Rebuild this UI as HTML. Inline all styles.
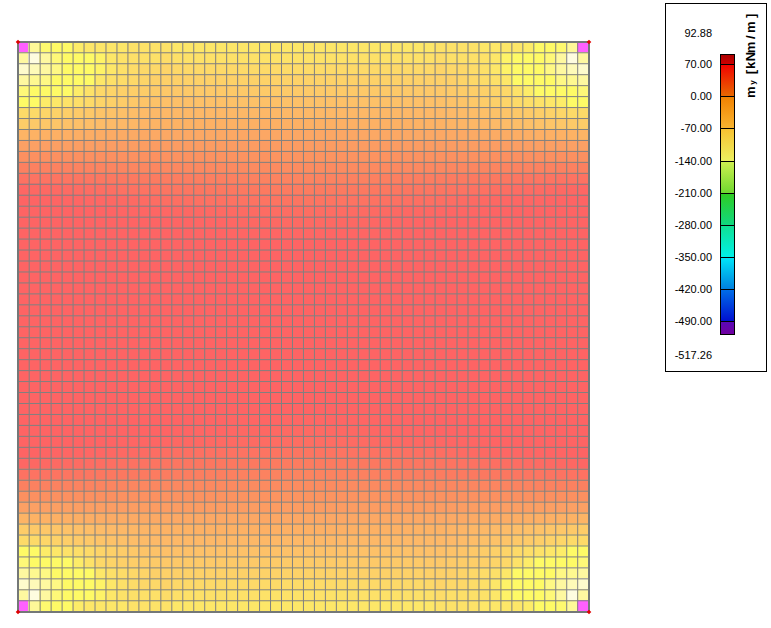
<!DOCTYPE html>
<html><head><meta charset="utf-8"><style>
html,body{margin:0;padding:0;background:#fff;width:771px;height:628px;overflow:hidden;position:relative}
body{font-family:"Liberation Sans",sans-serif}
.lb{position:absolute;right:59px;font-size:11px;line-height:14px;color:#000;white-space:nowrap}
#box{position:absolute;left:665px;top:3px;width:100px;height:367px;border:1px solid #000}
#ttl{position:absolute;left:744px;top:98px;width:90px;height:14px;transform:rotate(-90deg);transform-origin:0 0;font-weight:bold;white-space:nowrap;color:#000}
</style></head><body>
<svg width="771" height="628" style="position:absolute;left:0;top:0" shape-rendering="crispEdges">
<rect x="17" y="41" width="11" height="11" fill="#ff60ff"/><rect x="28" y="41" width="11" height="11" fill="#fef898"/><rect x="39" y="41" width="11" height="11" fill="#fef96f"/><rect x="50" y="41" width="22" height="11" fill="#fefa66"/><rect x="72" y="41" width="11" height="11" fill="#fdec68"/><rect x="83" y="41" width="44" height="11" fill="#fde768"/><rect x="127" y="41" width="44" height="11" fill="#fde268"/><rect x="171" y="41" width="263" height="11" fill="#fde768"/><rect x="434" y="41" width="44" height="11" fill="#fde268"/><rect x="478" y="41" width="44" height="11" fill="#fde768"/><rect x="522" y="41" width="11" height="11" fill="#fdec68"/><rect x="533" y="41" width="22" height="11" fill="#fefa66"/><rect x="555" y="41" width="11" height="11" fill="#fef96f"/><rect x="566" y="41" width="11" height="11" fill="#fef898"/><rect x="577" y="41" width="12" height="11" fill="#ff60ff"/><rect x="17" y="52" width="11" height="11" fill="#fef8a0"/><rect x="28" y="52" width="11" height="11" fill="#fefce0"/><rect x="39" y="52" width="11" height="11" fill="#fef8a0"/><rect x="50" y="52" width="11" height="11" fill="#fef878"/><rect x="61" y="52" width="33" height="11" fill="#fefa66"/><rect x="94" y="52" width="11" height="11" fill="#fef367"/><rect x="105" y="52" width="11" height="11" fill="#fde768"/><rect x="116" y="52" width="11" height="11" fill="#fde268"/><rect x="127" y="52" width="33" height="11" fill="#fde068"/><rect x="160" y="52" width="11" height="11" fill="#fddc68"/><rect x="171" y="52" width="11" height="11" fill="#fde068"/><rect x="182" y="52" width="77" height="11" fill="#fde168"/><rect x="259" y="52" width="88" height="11" fill="#fde268"/><rect x="347" y="52" width="76" height="11" fill="#fde168"/><rect x="423" y="52" width="11" height="11" fill="#fde068"/><rect x="434" y="52" width="11" height="11" fill="#fddc68"/><rect x="445" y="52" width="33" height="11" fill="#fde068"/><rect x="478" y="52" width="11" height="11" fill="#fde268"/><rect x="489" y="52" width="11" height="11" fill="#fde768"/><rect x="500" y="52" width="11" height="11" fill="#fef367"/><rect x="511" y="52" width="33" height="11" fill="#fefa66"/><rect x="544" y="52" width="11" height="11" fill="#fef878"/><rect x="555" y="52" width="11" height="11" fill="#fef8a0"/><rect x="566" y="52" width="11" height="11" fill="#fefce0"/><rect x="577" y="52" width="12" height="11" fill="#fef8a0"/><rect x="17" y="63" width="11" height="11" fill="#fefbcc"/><rect x="28" y="63" width="11" height="11" fill="#fefab8"/><rect x="39" y="63" width="11" height="11" fill="#fef8a0"/><rect x="50" y="63" width="11" height="11" fill="#fef884"/><rect x="61" y="63" width="33" height="11" fill="#fefa66"/><rect x="94" y="63" width="11" height="11" fill="#fef367"/><rect x="105" y="63" width="11" height="11" fill="#fde768"/><rect x="116" y="63" width="11" height="11" fill="#fde068"/><rect x="127" y="63" width="11" height="11" fill="#fddc68"/><rect x="138" y="63" width="22" height="11" fill="#fdd868"/><rect x="160" y="63" width="11" height="11" fill="#fdd468"/><rect x="171" y="63" width="11" height="11" fill="#fdd868"/><rect x="182" y="63" width="55" height="11" fill="#fdd968"/><rect x="237" y="63" width="44" height="11" fill="#fdda68"/><rect x="281" y="63" width="44" height="11" fill="#fddb68"/><rect x="325" y="63" width="44" height="11" fill="#fdda68"/><rect x="369" y="63" width="54" height="11" fill="#fdd968"/><rect x="423" y="63" width="11" height="11" fill="#fdd868"/><rect x="434" y="63" width="11" height="11" fill="#fdd468"/><rect x="445" y="63" width="22" height="11" fill="#fdd868"/><rect x="467" y="63" width="11" height="11" fill="#fddc68"/><rect x="478" y="63" width="11" height="11" fill="#fde068"/><rect x="489" y="63" width="11" height="11" fill="#fde768"/><rect x="500" y="63" width="11" height="11" fill="#fef367"/><rect x="511" y="63" width="33" height="11" fill="#fefa66"/><rect x="544" y="63" width="11" height="11" fill="#fef884"/><rect x="555" y="63" width="11" height="11" fill="#fef8a0"/><rect x="566" y="63" width="11" height="11" fill="#fefab8"/><rect x="577" y="63" width="12" height="11" fill="#fefbcc"/><rect x="17" y="74" width="11" height="11" fill="#fef8a0"/><rect x="28" y="74" width="11" height="11" fill="#fef890"/><rect x="39" y="74" width="11" height="11" fill="#fef884"/><rect x="50" y="74" width="44" height="11" fill="#fefa66"/><rect x="94" y="74" width="11" height="11" fill="#fde768"/><rect x="105" y="74" width="11" height="11" fill="#fde068"/><rect x="116" y="74" width="11" height="11" fill="#fddc68"/><rect x="127" y="74" width="11" height="11" fill="#fdd868"/><rect x="138" y="74" width="11" height="11" fill="#fdd468"/><rect x="149" y="74" width="33" height="11" fill="#fdd068"/><rect x="182" y="74" width="77" height="11" fill="#fdd168"/><rect x="259" y="74" width="88" height="11" fill="#fdd268"/><rect x="347" y="74" width="76" height="11" fill="#fdd168"/><rect x="423" y="74" width="33" height="11" fill="#fdd068"/><rect x="456" y="74" width="11" height="11" fill="#fdd468"/><rect x="467" y="74" width="11" height="11" fill="#fdd868"/><rect x="478" y="74" width="11" height="11" fill="#fddc68"/><rect x="489" y="74" width="11" height="11" fill="#fde068"/><rect x="500" y="74" width="11" height="11" fill="#fde768"/><rect x="511" y="74" width="44" height="11" fill="#fefa66"/><rect x="555" y="74" width="11" height="11" fill="#fef884"/><rect x="566" y="74" width="11" height="11" fill="#fef890"/><rect x="577" y="74" width="12" height="11" fill="#fef8a0"/><rect x="17" y="85" width="11" height="11" fill="#fef878"/><rect x="28" y="85" width="44" height="11" fill="#fefa66"/><rect x="72" y="85" width="11" height="11" fill="#fdec68"/><rect x="83" y="85" width="11" height="11" fill="#fde268"/><rect x="94" y="85" width="11" height="11" fill="#fdd868"/><rect x="105" y="85" width="11" height="11" fill="#fdd468"/><rect x="116" y="85" width="11" height="11" fill="#fdd068"/><rect x="127" y="85" width="11" height="11" fill="#fdce68"/><rect x="138" y="85" width="11" height="11" fill="#fdcc68"/><rect x="149" y="85" width="11" height="11" fill="#fdca68"/><rect x="160" y="85" width="22" height="11" fill="#fdc868"/><rect x="182" y="85" width="77" height="11" fill="#fdc968"/><rect x="259" y="85" width="88" height="11" fill="#fdca68"/><rect x="347" y="85" width="76" height="11" fill="#fdc968"/><rect x="423" y="85" width="22" height="11" fill="#fdc868"/><rect x="445" y="85" width="11" height="11" fill="#fdca68"/><rect x="456" y="85" width="11" height="11" fill="#fdcc68"/><rect x="467" y="85" width="11" height="11" fill="#fdce68"/><rect x="478" y="85" width="11" height="11" fill="#fdd068"/><rect x="489" y="85" width="11" height="11" fill="#fdd468"/><rect x="500" y="85" width="11" height="11" fill="#fdd868"/><rect x="511" y="85" width="11" height="11" fill="#fde268"/><rect x="522" y="85" width="11" height="11" fill="#fdec68"/><rect x="533" y="85" width="44" height="11" fill="#fefa66"/><rect x="577" y="85" width="12" height="11" fill="#fef878"/><rect x="17" y="96" width="22" height="11" fill="#fefa66"/><rect x="39" y="96" width="11" height="11" fill="#fdec68"/><rect x="50" y="96" width="11" height="11" fill="#fde768"/><rect x="61" y="96" width="11" height="11" fill="#fde268"/><rect x="72" y="96" width="11" height="11" fill="#fdde68"/><rect x="83" y="96" width="11" height="11" fill="#fdda68"/><rect x="94" y="96" width="11" height="11" fill="#fdd468"/><rect x="105" y="96" width="11" height="11" fill="#fdd068"/><rect x="116" y="96" width="11" height="11" fill="#fdcc68"/><rect x="127" y="96" width="11" height="11" fill="#fdc868"/><rect x="138" y="96" width="11" height="11" fill="#fdc468"/><rect x="149" y="96" width="11" height="11" fill="#fdc268"/><rect x="160" y="96" width="33" height="11" fill="#fdc068"/><rect x="193" y="96" width="219" height="11" fill="#fdc168"/><rect x="412" y="96" width="33" height="11" fill="#fdc068"/><rect x="445" y="96" width="11" height="11" fill="#fdc268"/><rect x="456" y="96" width="11" height="11" fill="#fdc468"/><rect x="467" y="96" width="11" height="11" fill="#fdc868"/><rect x="478" y="96" width="11" height="11" fill="#fdcc68"/><rect x="489" y="96" width="11" height="11" fill="#fdd068"/><rect x="500" y="96" width="11" height="11" fill="#fdd468"/><rect x="511" y="96" width="11" height="11" fill="#fdda68"/><rect x="522" y="96" width="11" height="11" fill="#fdde68"/><rect x="533" y="96" width="11" height="11" fill="#fde268"/><rect x="544" y="96" width="11" height="11" fill="#fde768"/><rect x="555" y="96" width="11" height="11" fill="#fdec68"/><rect x="566" y="96" width="23" height="11" fill="#fefa66"/><rect x="17" y="107" width="22" height="11" fill="#fdda68"/><rect x="39" y="107" width="11" height="11" fill="#fdd668"/><rect x="50" y="107" width="11" height="11" fill="#fdd268"/><rect x="61" y="107" width="11" height="11" fill="#fdce68"/><rect x="72" y="107" width="11" height="11" fill="#fdca68"/><rect x="83" y="107" width="11" height="11" fill="#fdc868"/><rect x="94" y="107" width="11" height="11" fill="#fdc468"/><rect x="105" y="107" width="11" height="11" fill="#fdc268"/><rect x="116" y="107" width="11" height="11" fill="#fdc068"/><rect x="127" y="107" width="11" height="11" fill="#fdbd68"/><rect x="138" y="107" width="11" height="11" fill="#fdbb68"/><rect x="149" y="107" width="11" height="11" fill="#fdb968"/><rect x="160" y="107" width="285" height="11" fill="#fdb867"/><rect x="445" y="107" width="11" height="11" fill="#fdb968"/><rect x="456" y="107" width="11" height="11" fill="#fdbb68"/><rect x="467" y="107" width="11" height="11" fill="#fdbd68"/><rect x="478" y="107" width="11" height="11" fill="#fdc068"/><rect x="489" y="107" width="11" height="11" fill="#fdc268"/><rect x="500" y="107" width="11" height="11" fill="#fdc468"/><rect x="511" y="107" width="11" height="11" fill="#fdc868"/><rect x="522" y="107" width="11" height="11" fill="#fdca68"/><rect x="533" y="107" width="11" height="11" fill="#fdce68"/><rect x="544" y="107" width="11" height="11" fill="#fdd268"/><rect x="555" y="107" width="11" height="11" fill="#fdd668"/><rect x="566" y="107" width="23" height="11" fill="#fdda68"/><rect x="17" y="118" width="11" height="11" fill="#fdcc68"/><rect x="28" y="118" width="11" height="11" fill="#fdc968"/><rect x="39" y="118" width="11" height="11" fill="#fdc768"/><rect x="50" y="118" width="11" height="11" fill="#fdc568"/><rect x="61" y="118" width="11" height="11" fill="#fdc268"/><rect x="72" y="118" width="11" height="11" fill="#fdc068"/><rect x="83" y="118" width="11" height="11" fill="#fdbe68"/><rect x="94" y="118" width="11" height="11" fill="#fdbc68"/><rect x="105" y="118" width="11" height="11" fill="#fdba68"/><rect x="116" y="118" width="11" height="11" fill="#fdb867"/><rect x="127" y="118" width="11" height="11" fill="#fdb766"/><rect x="138" y="118" width="11" height="11" fill="#fdb566"/><rect x="149" y="118" width="11" height="11" fill="#fdb465"/><rect x="160" y="118" width="33" height="11" fill="#fdb264"/><rect x="193" y="118" width="55" height="11" fill="#fdb164"/><rect x="248" y="118" width="110" height="11" fill="#fdb064"/><rect x="358" y="118" width="54" height="11" fill="#fdb164"/><rect x="412" y="118" width="33" height="11" fill="#fdb264"/><rect x="445" y="118" width="11" height="11" fill="#fdb465"/><rect x="456" y="118" width="11" height="11" fill="#fdb566"/><rect x="467" y="118" width="11" height="11" fill="#fdb766"/><rect x="478" y="118" width="11" height="11" fill="#fdb867"/><rect x="489" y="118" width="11" height="11" fill="#fdba68"/><rect x="500" y="118" width="11" height="11" fill="#fdbc68"/><rect x="511" y="118" width="11" height="11" fill="#fdbe68"/><rect x="522" y="118" width="11" height="11" fill="#fdc068"/><rect x="533" y="118" width="11" height="11" fill="#fdc268"/><rect x="544" y="118" width="11" height="11" fill="#fdc568"/><rect x="555" y="118" width="11" height="11" fill="#fdc768"/><rect x="566" y="118" width="11" height="11" fill="#fdc968"/><rect x="577" y="118" width="12" height="11" fill="#fdcc68"/><rect x="17" y="129" width="11" height="11" fill="#fdb465"/><rect x="28" y="129" width="11" height="11" fill="#fdb264"/><rect x="39" y="129" width="11" height="11" fill="#fdb164"/><rect x="50" y="129" width="11" height="11" fill="#fdb064"/><rect x="61" y="129" width="11" height="11" fill="#fdaf64"/><rect x="72" y="129" width="11" height="11" fill="#fcae64"/><rect x="83" y="129" width="11" height="11" fill="#fcad64"/><rect x="94" y="129" width="11" height="11" fill="#fcac64"/><rect x="105" y="129" width="22" height="11" fill="#fcab64"/><rect x="127" y="129" width="11" height="11" fill="#fcaa64"/><rect x="138" y="129" width="22" height="11" fill="#fca964"/><rect x="160" y="129" width="77" height="11" fill="#fca864"/><rect x="237" y="129" width="132" height="11" fill="#fca764"/><rect x="369" y="129" width="76" height="11" fill="#fca864"/><rect x="445" y="129" width="22" height="11" fill="#fca964"/><rect x="467" y="129" width="11" height="11" fill="#fcaa64"/><rect x="478" y="129" width="22" height="11" fill="#fcab64"/><rect x="500" y="129" width="11" height="11" fill="#fcac64"/><rect x="511" y="129" width="11" height="11" fill="#fcad64"/><rect x="522" y="129" width="11" height="11" fill="#fcae64"/><rect x="533" y="129" width="11" height="11" fill="#fdaf64"/><rect x="544" y="129" width="11" height="11" fill="#fdb064"/><rect x="555" y="129" width="11" height="11" fill="#fdb164"/><rect x="566" y="129" width="11" height="11" fill="#fdb264"/><rect x="577" y="129" width="12" height="11" fill="#fdb465"/><rect x="17" y="140" width="22" height="11" fill="#fca064"/><rect x="39" y="140" width="11" height="11" fill="#fc9f64"/><rect x="50" y="140" width="22" height="11" fill="#fc9f63"/><rect x="72" y="140" width="33" height="11" fill="#fc9e63"/><rect x="105" y="140" width="22" height="11" fill="#fc9d63"/><rect x="127" y="140" width="22" height="11" fill="#fc9d62"/><rect x="149" y="140" width="307" height="11" fill="#fc9c62"/><rect x="456" y="140" width="22" height="11" fill="#fc9d62"/><rect x="478" y="140" width="22" height="11" fill="#fc9d63"/><rect x="500" y="140" width="33" height="11" fill="#fc9e63"/><rect x="533" y="140" width="22" height="11" fill="#fc9f63"/><rect x="555" y="140" width="11" height="11" fill="#fc9f64"/><rect x="566" y="140" width="23" height="11" fill="#fca064"/><rect x="17" y="151" width="99" height="11" fill="#fc9060"/><rect x="116" y="151" width="44" height="11" fill="#fc9160"/><rect x="160" y="151" width="55" height="11" fill="#fc9260"/><rect x="215" y="151" width="55" height="11" fill="#fc9360"/><rect x="270" y="151" width="66" height="11" fill="#fc9460"/><rect x="336" y="151" width="54" height="11" fill="#fc9360"/><rect x="390" y="151" width="55" height="11" fill="#fc9260"/><rect x="445" y="151" width="44" height="11" fill="#fc9160"/><rect x="489" y="151" width="100" height="11" fill="#fc9060"/><rect x="17" y="162" width="11" height="11" fill="#fc8060"/><rect x="28" y="162" width="22" height="11" fill="#fc8160"/><rect x="50" y="162" width="22" height="11" fill="#fc8260"/><rect x="72" y="162" width="22" height="11" fill="#fc8360"/><rect x="94" y="162" width="11" height="11" fill="#fc8460"/><rect x="105" y="162" width="22" height="11" fill="#fc8560"/><rect x="127" y="162" width="11" height="11" fill="#fc8660"/><rect x="138" y="162" width="22" height="11" fill="#fc8760"/><rect x="160" y="162" width="22" height="11" fill="#fc8860"/><rect x="182" y="162" width="33" height="11" fill="#fc8960"/><rect x="215" y="162" width="33" height="11" fill="#fc8a60"/><rect x="248" y="162" width="33" height="11" fill="#fc8b60"/><rect x="281" y="162" width="44" height="11" fill="#fc8c60"/><rect x="325" y="162" width="33" height="11" fill="#fc8b60"/><rect x="358" y="162" width="32" height="11" fill="#fc8a60"/><rect x="390" y="162" width="33" height="11" fill="#fc8960"/><rect x="423" y="162" width="22" height="11" fill="#fc8860"/><rect x="445" y="162" width="22" height="11" fill="#fc8760"/><rect x="467" y="162" width="11" height="11" fill="#fc8660"/><rect x="478" y="162" width="22" height="11" fill="#fc8560"/><rect x="500" y="162" width="11" height="11" fill="#fc8460"/><rect x="511" y="162" width="22" height="11" fill="#fc8360"/><rect x="533" y="162" width="22" height="11" fill="#fc8260"/><rect x="555" y="162" width="22" height="11" fill="#fc8160"/><rect x="577" y="162" width="12" height="11" fill="#fc8060"/><rect x="17" y="173" width="11" height="10" fill="#fd7262"/><rect x="28" y="173" width="22" height="10" fill="#fd7362"/><rect x="50" y="173" width="11" height="10" fill="#fd7461"/><rect x="61" y="173" width="11" height="10" fill="#fd7561"/><rect x="72" y="173" width="11" height="10" fill="#fc7561"/><rect x="83" y="173" width="11" height="10" fill="#fc7661"/><rect x="94" y="173" width="11" height="10" fill="#fc7760"/><rect x="105" y="173" width="22" height="10" fill="#fc7860"/><rect x="127" y="173" width="11" height="10" fill="#fc7960"/><rect x="138" y="173" width="11" height="10" fill="#fc7a60"/><rect x="149" y="173" width="11" height="10" fill="#fc7b60"/><rect x="160" y="173" width="11" height="10" fill="#fc7c60"/><rect x="171" y="173" width="22" height="10" fill="#fc7d60"/><rect x="193" y="173" width="11" height="10" fill="#fc7e60"/><rect x="204" y="173" width="22" height="10" fill="#fc7f60"/><rect x="226" y="173" width="11" height="10" fill="#fc8060"/><rect x="237" y="173" width="22" height="10" fill="#fc8160"/><rect x="259" y="173" width="11" height="10" fill="#fc8260"/><rect x="270" y="173" width="22" height="10" fill="#fc8360"/><rect x="292" y="173" width="22" height="10" fill="#fc8460"/><rect x="314" y="173" width="22" height="10" fill="#fc8360"/><rect x="336" y="173" width="11" height="10" fill="#fc8260"/><rect x="347" y="173" width="22" height="10" fill="#fc8160"/><rect x="369" y="173" width="11" height="10" fill="#fc8060"/><rect x="380" y="173" width="21" height="10" fill="#fc7f60"/><rect x="401" y="173" width="11" height="10" fill="#fc7e60"/><rect x="412" y="173" width="22" height="10" fill="#fc7d60"/><rect x="434" y="173" width="11" height="10" fill="#fc7c60"/><rect x="445" y="173" width="11" height="10" fill="#fc7b60"/><rect x="456" y="173" width="11" height="10" fill="#fc7a60"/><rect x="467" y="173" width="11" height="10" fill="#fc7960"/><rect x="478" y="173" width="22" height="10" fill="#fc7860"/><rect x="500" y="173" width="11" height="10" fill="#fc7760"/><rect x="511" y="173" width="11" height="10" fill="#fc7661"/><rect x="522" y="173" width="11" height="10" fill="#fc7561"/><rect x="533" y="173" width="11" height="10" fill="#fd7561"/><rect x="544" y="173" width="11" height="10" fill="#fd7461"/><rect x="555" y="173" width="22" height="10" fill="#fd7362"/><rect x="577" y="173" width="12" height="10" fill="#fd7262"/><rect x="17" y="183" width="11" height="11" fill="#fe6764"/><rect x="28" y="183" width="11" height="11" fill="#fd6863"/><rect x="39" y="183" width="11" height="11" fill="#fd6963"/><rect x="50" y="183" width="11" height="11" fill="#fd6a63"/><rect x="61" y="183" width="11" height="11" fill="#fd6b63"/><rect x="72" y="183" width="11" height="11" fill="#fd6c63"/><rect x="83" y="183" width="11" height="11" fill="#fd6d63"/><rect x="94" y="183" width="11" height="11" fill="#fd6e62"/><rect x="105" y="183" width="11" height="11" fill="#fd6f62"/><rect x="116" y="183" width="11" height="11" fill="#fd7162"/><rect x="127" y="183" width="11" height="11" fill="#fd7262"/><rect x="138" y="183" width="11" height="11" fill="#fd7362"/><rect x="149" y="183" width="11" height="11" fill="#fd7461"/><rect x="160" y="183" width="11" height="11" fill="#fc7561"/><rect x="171" y="183" width="22" height="11" fill="#fc7661"/><rect x="193" y="183" width="11" height="11" fill="#fc7660"/><rect x="204" y="183" width="11" height="11" fill="#fc7760"/><rect x="215" y="183" width="22" height="11" fill="#fc7860"/><rect x="237" y="183" width="22" height="11" fill="#fc7960"/><rect x="259" y="183" width="11" height="11" fill="#fc7a60"/><rect x="270" y="183" width="22" height="11" fill="#fc7b60"/><rect x="292" y="183" width="22" height="11" fill="#fc7c60"/><rect x="314" y="183" width="22" height="11" fill="#fc7b60"/><rect x="336" y="183" width="11" height="11" fill="#fc7a60"/><rect x="347" y="183" width="22" height="11" fill="#fc7960"/><rect x="369" y="183" width="21" height="11" fill="#fc7860"/><rect x="390" y="183" width="11" height="11" fill="#fc7760"/><rect x="401" y="183" width="11" height="11" fill="#fc7660"/><rect x="412" y="183" width="22" height="11" fill="#fc7661"/><rect x="434" y="183" width="11" height="11" fill="#fc7561"/><rect x="445" y="183" width="11" height="11" fill="#fd7461"/><rect x="456" y="183" width="11" height="11" fill="#fd7362"/><rect x="467" y="183" width="11" height="11" fill="#fd7262"/><rect x="478" y="183" width="11" height="11" fill="#fd7162"/><rect x="489" y="183" width="11" height="11" fill="#fd6f62"/><rect x="500" y="183" width="11" height="11" fill="#fd6e62"/><rect x="511" y="183" width="11" height="11" fill="#fd6d63"/><rect x="522" y="183" width="11" height="11" fill="#fd6c63"/><rect x="533" y="183" width="11" height="11" fill="#fd6b63"/><rect x="544" y="183" width="11" height="11" fill="#fd6a63"/><rect x="555" y="183" width="11" height="11" fill="#fd6963"/><rect x="566" y="183" width="11" height="11" fill="#fd6863"/><rect x="577" y="183" width="12" height="11" fill="#fe6764"/><rect x="17" y="194" width="22" height="11" fill="#fe6464"/><rect x="39" y="194" width="22" height="11" fill="#fe6564"/><rect x="61" y="194" width="22" height="11" fill="#fe6664"/><rect x="83" y="194" width="22" height="11" fill="#fe6764"/><rect x="105" y="194" width="11" height="11" fill="#fd6863"/><rect x="116" y="194" width="11" height="11" fill="#fd6963"/><rect x="127" y="194" width="11" height="11" fill="#fd6a63"/><rect x="138" y="194" width="11" height="11" fill="#fd6b63"/><rect x="149" y="194" width="11" height="11" fill="#fd6d63"/><rect x="160" y="194" width="11" height="11" fill="#fd6e62"/><rect x="171" y="194" width="22" height="11" fill="#fd6f62"/><rect x="193" y="194" width="11" height="11" fill="#fd7062"/><rect x="204" y="194" width="22" height="11" fill="#fd7162"/><rect x="226" y="194" width="11" height="11" fill="#fd7262"/><rect x="237" y="194" width="22" height="11" fill="#fd7362"/><rect x="259" y="194" width="11" height="11" fill="#fd7462"/><rect x="270" y="194" width="22" height="11" fill="#fd7461"/><rect x="292" y="194" width="22" height="11" fill="#fc7561"/><rect x="314" y="194" width="22" height="11" fill="#fd7461"/><rect x="336" y="194" width="11" height="11" fill="#fd7462"/><rect x="347" y="194" width="22" height="11" fill="#fd7362"/><rect x="369" y="194" width="11" height="11" fill="#fd7262"/><rect x="380" y="194" width="21" height="11" fill="#fd7162"/><rect x="401" y="194" width="11" height="11" fill="#fd7062"/><rect x="412" y="194" width="22" height="11" fill="#fd6f62"/><rect x="434" y="194" width="11" height="11" fill="#fd6e62"/><rect x="445" y="194" width="11" height="11" fill="#fd6d63"/><rect x="456" y="194" width="11" height="11" fill="#fd6b63"/><rect x="467" y="194" width="11" height="11" fill="#fd6a63"/><rect x="478" y="194" width="11" height="11" fill="#fd6963"/><rect x="489" y="194" width="11" height="11" fill="#fd6863"/><rect x="500" y="194" width="22" height="11" fill="#fe6764"/><rect x="522" y="194" width="22" height="11" fill="#fe6664"/><rect x="544" y="194" width="22" height="11" fill="#fe6564"/><rect x="566" y="194" width="23" height="11" fill="#fe6464"/><rect x="17" y="205" width="99" height="11" fill="#fe6464"/><rect x="116" y="205" width="11" height="11" fill="#fe6564"/><rect x="127" y="205" width="33" height="11" fill="#fe6664"/><rect x="160" y="205" width="11" height="11" fill="#fe6764"/><rect x="171" y="205" width="33" height="11" fill="#fd6863"/><rect x="204" y="205" width="11" height="11" fill="#fd6963"/><rect x="215" y="205" width="22" height="11" fill="#fd6a63"/><rect x="237" y="205" width="22" height="11" fill="#fd6b63"/><rect x="259" y="205" width="11" height="11" fill="#fd6c63"/><rect x="270" y="205" width="22" height="11" fill="#fd6d63"/><rect x="292" y="205" width="22" height="11" fill="#fd6e62"/><rect x="314" y="205" width="22" height="11" fill="#fd6d63"/><rect x="336" y="205" width="11" height="11" fill="#fd6c63"/><rect x="347" y="205" width="22" height="11" fill="#fd6b63"/><rect x="369" y="205" width="21" height="11" fill="#fd6a63"/><rect x="390" y="205" width="11" height="11" fill="#fd6963"/><rect x="401" y="205" width="33" height="11" fill="#fd6863"/><rect x="434" y="205" width="11" height="11" fill="#fe6764"/><rect x="445" y="205" width="33" height="11" fill="#fe6664"/><rect x="478" y="205" width="11" height="11" fill="#fe6564"/><rect x="489" y="205" width="100" height="11" fill="#fe6464"/><rect x="17" y="216" width="154" height="11" fill="#fe6464"/><rect x="171" y="216" width="22" height="11" fill="#fe6564"/><rect x="193" y="216" width="33" height="11" fill="#fe6664"/><rect x="226" y="216" width="11" height="11" fill="#fe6764"/><rect x="237" y="216" width="33" height="11" fill="#fd6863"/><rect x="270" y="216" width="11" height="11" fill="#fd6963"/><rect x="281" y="216" width="44" height="11" fill="#fd6a63"/><rect x="325" y="216" width="11" height="11" fill="#fd6963"/><rect x="336" y="216" width="33" height="11" fill="#fd6863"/><rect x="369" y="216" width="11" height="11" fill="#fe6764"/><rect x="380" y="216" width="32" height="11" fill="#fe6664"/><rect x="412" y="216" width="22" height="11" fill="#fe6564"/><rect x="434" y="216" width="155" height="11" fill="#fe6464"/><rect x="17" y="227" width="176" height="11" fill="#fe6464"/><rect x="193" y="227" width="33" height="11" fill="#fe6564"/><rect x="226" y="227" width="55" height="11" fill="#fe6664"/><rect x="281" y="227" width="44" height="11" fill="#fe6764"/><rect x="325" y="227" width="55" height="11" fill="#fe6664"/><rect x="380" y="227" width="32" height="11" fill="#fe6564"/><rect x="412" y="227" width="177" height="11" fill="#fe6464"/><rect x="17" y="238" width="572" height="11" fill="#fe6464"/><rect x="17" y="249" width="572" height="11" fill="#fe6464"/><rect x="17" y="260" width="572" height="11" fill="#fe6464"/><rect x="17" y="271" width="572" height="11" fill="#fe6464"/><rect x="17" y="282" width="572" height="11" fill="#fe6464"/><rect x="17" y="293" width="572" height="11" fill="#fe6464"/><rect x="17" y="304" width="572" height="11" fill="#fe6464"/><rect x="17" y="315" width="572" height="11" fill="#fe6464"/><rect x="17" y="326" width="572" height="11" fill="#fe6464"/><rect x="17" y="337" width="572" height="11" fill="#fe6464"/><rect x="17" y="348" width="572" height="11" fill="#fe6464"/><rect x="17" y="359" width="572" height="11" fill="#fe6464"/><rect x="17" y="370" width="572" height="11" fill="#fe6464"/><rect x="17" y="381" width="572" height="11" fill="#fe6464"/><rect x="17" y="392" width="572" height="11" fill="#fe6464"/><rect x="17" y="403" width="572" height="11" fill="#fe6464"/><rect x="17" y="414" width="176" height="11" fill="#fe6464"/><rect x="193" y="414" width="33" height="11" fill="#fe6564"/><rect x="226" y="414" width="55" height="11" fill="#fe6664"/><rect x="281" y="414" width="44" height="11" fill="#fe6764"/><rect x="325" y="414" width="55" height="11" fill="#fe6664"/><rect x="380" y="414" width="32" height="11" fill="#fe6564"/><rect x="412" y="414" width="177" height="11" fill="#fe6464"/><rect x="17" y="425" width="154" height="11" fill="#fe6464"/><rect x="171" y="425" width="22" height="11" fill="#fe6564"/><rect x="193" y="425" width="33" height="11" fill="#fe6664"/><rect x="226" y="425" width="11" height="11" fill="#fe6764"/><rect x="237" y="425" width="33" height="11" fill="#fd6863"/><rect x="270" y="425" width="11" height="11" fill="#fd6963"/><rect x="281" y="425" width="44" height="11" fill="#fd6a63"/><rect x="325" y="425" width="11" height="11" fill="#fd6963"/><rect x="336" y="425" width="33" height="11" fill="#fd6863"/><rect x="369" y="425" width="11" height="11" fill="#fe6764"/><rect x="380" y="425" width="32" height="11" fill="#fe6664"/><rect x="412" y="425" width="22" height="11" fill="#fe6564"/><rect x="434" y="425" width="155" height="11" fill="#fe6464"/><rect x="17" y="436" width="99" height="11" fill="#fe6464"/><rect x="116" y="436" width="11" height="11" fill="#fe6564"/><rect x="127" y="436" width="33" height="11" fill="#fe6664"/><rect x="160" y="436" width="11" height="11" fill="#fe6764"/><rect x="171" y="436" width="33" height="11" fill="#fd6863"/><rect x="204" y="436" width="11" height="11" fill="#fd6963"/><rect x="215" y="436" width="22" height="11" fill="#fd6a63"/><rect x="237" y="436" width="22" height="11" fill="#fd6b63"/><rect x="259" y="436" width="11" height="11" fill="#fd6c63"/><rect x="270" y="436" width="22" height="11" fill="#fd6d63"/><rect x="292" y="436" width="22" height="11" fill="#fd6e62"/><rect x="314" y="436" width="22" height="11" fill="#fd6d63"/><rect x="336" y="436" width="11" height="11" fill="#fd6c63"/><rect x="347" y="436" width="22" height="11" fill="#fd6b63"/><rect x="369" y="436" width="21" height="11" fill="#fd6a63"/><rect x="390" y="436" width="11" height="11" fill="#fd6963"/><rect x="401" y="436" width="33" height="11" fill="#fd6863"/><rect x="434" y="436" width="11" height="11" fill="#fe6764"/><rect x="445" y="436" width="33" height="11" fill="#fe6664"/><rect x="478" y="436" width="11" height="11" fill="#fe6564"/><rect x="489" y="436" width="100" height="11" fill="#fe6464"/><rect x="17" y="447" width="22" height="10" fill="#fe6464"/><rect x="39" y="447" width="22" height="10" fill="#fe6564"/><rect x="61" y="447" width="22" height="10" fill="#fe6664"/><rect x="83" y="447" width="22" height="10" fill="#fe6764"/><rect x="105" y="447" width="11" height="10" fill="#fd6863"/><rect x="116" y="447" width="11" height="10" fill="#fd6963"/><rect x="127" y="447" width="11" height="10" fill="#fd6a63"/><rect x="138" y="447" width="11" height="10" fill="#fd6b63"/><rect x="149" y="447" width="11" height="10" fill="#fd6d63"/><rect x="160" y="447" width="11" height="10" fill="#fd6e62"/><rect x="171" y="447" width="22" height="10" fill="#fd6f62"/><rect x="193" y="447" width="11" height="10" fill="#fd7062"/><rect x="204" y="447" width="22" height="10" fill="#fd7162"/><rect x="226" y="447" width="11" height="10" fill="#fd7262"/><rect x="237" y="447" width="22" height="10" fill="#fd7362"/><rect x="259" y="447" width="11" height="10" fill="#fd7462"/><rect x="270" y="447" width="22" height="10" fill="#fd7461"/><rect x="292" y="447" width="22" height="10" fill="#fc7561"/><rect x="314" y="447" width="22" height="10" fill="#fd7461"/><rect x="336" y="447" width="11" height="10" fill="#fd7462"/><rect x="347" y="447" width="22" height="10" fill="#fd7362"/><rect x="369" y="447" width="11" height="10" fill="#fd7262"/><rect x="380" y="447" width="21" height="10" fill="#fd7162"/><rect x="401" y="447" width="11" height="10" fill="#fd7062"/><rect x="412" y="447" width="22" height="10" fill="#fd6f62"/><rect x="434" y="447" width="11" height="10" fill="#fd6e62"/><rect x="445" y="447" width="11" height="10" fill="#fd6d63"/><rect x="456" y="447" width="11" height="10" fill="#fd6b63"/><rect x="467" y="447" width="11" height="10" fill="#fd6a63"/><rect x="478" y="447" width="11" height="10" fill="#fd6963"/><rect x="489" y="447" width="11" height="10" fill="#fd6863"/><rect x="500" y="447" width="22" height="10" fill="#fe6764"/><rect x="522" y="447" width="22" height="10" fill="#fe6664"/><rect x="544" y="447" width="22" height="10" fill="#fe6564"/><rect x="566" y="447" width="23" height="10" fill="#fe6464"/><rect x="17" y="457" width="11" height="11" fill="#fe6764"/><rect x="28" y="457" width="11" height="11" fill="#fd6863"/><rect x="39" y="457" width="11" height="11" fill="#fd6963"/><rect x="50" y="457" width="11" height="11" fill="#fd6a63"/><rect x="61" y="457" width="11" height="11" fill="#fd6b63"/><rect x="72" y="457" width="11" height="11" fill="#fd6c63"/><rect x="83" y="457" width="11" height="11" fill="#fd6d63"/><rect x="94" y="457" width="11" height="11" fill="#fd6e62"/><rect x="105" y="457" width="11" height="11" fill="#fd6f62"/><rect x="116" y="457" width="11" height="11" fill="#fd7162"/><rect x="127" y="457" width="11" height="11" fill="#fd7262"/><rect x="138" y="457" width="11" height="11" fill="#fd7362"/><rect x="149" y="457" width="11" height="11" fill="#fd7461"/><rect x="160" y="457" width="11" height="11" fill="#fc7561"/><rect x="171" y="457" width="22" height="11" fill="#fc7661"/><rect x="193" y="457" width="11" height="11" fill="#fc7660"/><rect x="204" y="457" width="11" height="11" fill="#fc7760"/><rect x="215" y="457" width="22" height="11" fill="#fc7860"/><rect x="237" y="457" width="22" height="11" fill="#fc7960"/><rect x="259" y="457" width="11" height="11" fill="#fc7a60"/><rect x="270" y="457" width="22" height="11" fill="#fc7b60"/><rect x="292" y="457" width="22" height="11" fill="#fc7c60"/><rect x="314" y="457" width="22" height="11" fill="#fc7b60"/><rect x="336" y="457" width="11" height="11" fill="#fc7a60"/><rect x="347" y="457" width="22" height="11" fill="#fc7960"/><rect x="369" y="457" width="21" height="11" fill="#fc7860"/><rect x="390" y="457" width="11" height="11" fill="#fc7760"/><rect x="401" y="457" width="11" height="11" fill="#fc7660"/><rect x="412" y="457" width="22" height="11" fill="#fc7661"/><rect x="434" y="457" width="11" height="11" fill="#fc7561"/><rect x="445" y="457" width="11" height="11" fill="#fd7461"/><rect x="456" y="457" width="11" height="11" fill="#fd7362"/><rect x="467" y="457" width="11" height="11" fill="#fd7262"/><rect x="478" y="457" width="11" height="11" fill="#fd7162"/><rect x="489" y="457" width="11" height="11" fill="#fd6f62"/><rect x="500" y="457" width="11" height="11" fill="#fd6e62"/><rect x="511" y="457" width="11" height="11" fill="#fd6d63"/><rect x="522" y="457" width="11" height="11" fill="#fd6c63"/><rect x="533" y="457" width="11" height="11" fill="#fd6b63"/><rect x="544" y="457" width="11" height="11" fill="#fd6a63"/><rect x="555" y="457" width="11" height="11" fill="#fd6963"/><rect x="566" y="457" width="11" height="11" fill="#fd6863"/><rect x="577" y="457" width="12" height="11" fill="#fe6764"/><rect x="17" y="468" width="11" height="11" fill="#fd7262"/><rect x="28" y="468" width="22" height="11" fill="#fd7362"/><rect x="50" y="468" width="11" height="11" fill="#fd7461"/><rect x="61" y="468" width="11" height="11" fill="#fd7561"/><rect x="72" y="468" width="11" height="11" fill="#fc7561"/><rect x="83" y="468" width="11" height="11" fill="#fc7661"/><rect x="94" y="468" width="11" height="11" fill="#fc7760"/><rect x="105" y="468" width="22" height="11" fill="#fc7860"/><rect x="127" y="468" width="11" height="11" fill="#fc7960"/><rect x="138" y="468" width="11" height="11" fill="#fc7a60"/><rect x="149" y="468" width="11" height="11" fill="#fc7b60"/><rect x="160" y="468" width="11" height="11" fill="#fc7c60"/><rect x="171" y="468" width="22" height="11" fill="#fc7d60"/><rect x="193" y="468" width="11" height="11" fill="#fc7e60"/><rect x="204" y="468" width="22" height="11" fill="#fc7f60"/><rect x="226" y="468" width="11" height="11" fill="#fc8060"/><rect x="237" y="468" width="22" height="11" fill="#fc8160"/><rect x="259" y="468" width="11" height="11" fill="#fc8260"/><rect x="270" y="468" width="22" height="11" fill="#fc8360"/><rect x="292" y="468" width="22" height="11" fill="#fc8460"/><rect x="314" y="468" width="22" height="11" fill="#fc8360"/><rect x="336" y="468" width="11" height="11" fill="#fc8260"/><rect x="347" y="468" width="22" height="11" fill="#fc8160"/><rect x="369" y="468" width="11" height="11" fill="#fc8060"/><rect x="380" y="468" width="21" height="11" fill="#fc7f60"/><rect x="401" y="468" width="11" height="11" fill="#fc7e60"/><rect x="412" y="468" width="22" height="11" fill="#fc7d60"/><rect x="434" y="468" width="11" height="11" fill="#fc7c60"/><rect x="445" y="468" width="11" height="11" fill="#fc7b60"/><rect x="456" y="468" width="11" height="11" fill="#fc7a60"/><rect x="467" y="468" width="11" height="11" fill="#fc7960"/><rect x="478" y="468" width="22" height="11" fill="#fc7860"/><rect x="500" y="468" width="11" height="11" fill="#fc7760"/><rect x="511" y="468" width="11" height="11" fill="#fc7661"/><rect x="522" y="468" width="11" height="11" fill="#fc7561"/><rect x="533" y="468" width="11" height="11" fill="#fd7561"/><rect x="544" y="468" width="11" height="11" fill="#fd7461"/><rect x="555" y="468" width="22" height="11" fill="#fd7362"/><rect x="577" y="468" width="12" height="11" fill="#fd7262"/><rect x="17" y="479" width="11" height="11" fill="#fc8060"/><rect x="28" y="479" width="22" height="11" fill="#fc8160"/><rect x="50" y="479" width="22" height="11" fill="#fc8260"/><rect x="72" y="479" width="22" height="11" fill="#fc8360"/><rect x="94" y="479" width="11" height="11" fill="#fc8460"/><rect x="105" y="479" width="22" height="11" fill="#fc8560"/><rect x="127" y="479" width="11" height="11" fill="#fc8660"/><rect x="138" y="479" width="22" height="11" fill="#fc8760"/><rect x="160" y="479" width="22" height="11" fill="#fc8860"/><rect x="182" y="479" width="33" height="11" fill="#fc8960"/><rect x="215" y="479" width="33" height="11" fill="#fc8a60"/><rect x="248" y="479" width="33" height="11" fill="#fc8b60"/><rect x="281" y="479" width="44" height="11" fill="#fc8c60"/><rect x="325" y="479" width="33" height="11" fill="#fc8b60"/><rect x="358" y="479" width="32" height="11" fill="#fc8a60"/><rect x="390" y="479" width="33" height="11" fill="#fc8960"/><rect x="423" y="479" width="22" height="11" fill="#fc8860"/><rect x="445" y="479" width="22" height="11" fill="#fc8760"/><rect x="467" y="479" width="11" height="11" fill="#fc8660"/><rect x="478" y="479" width="22" height="11" fill="#fc8560"/><rect x="500" y="479" width="11" height="11" fill="#fc8460"/><rect x="511" y="479" width="22" height="11" fill="#fc8360"/><rect x="533" y="479" width="22" height="11" fill="#fc8260"/><rect x="555" y="479" width="22" height="11" fill="#fc8160"/><rect x="577" y="479" width="12" height="11" fill="#fc8060"/><rect x="17" y="490" width="99" height="11" fill="#fc9060"/><rect x="116" y="490" width="44" height="11" fill="#fc9160"/><rect x="160" y="490" width="55" height="11" fill="#fc9260"/><rect x="215" y="490" width="55" height="11" fill="#fc9360"/><rect x="270" y="490" width="66" height="11" fill="#fc9460"/><rect x="336" y="490" width="54" height="11" fill="#fc9360"/><rect x="390" y="490" width="55" height="11" fill="#fc9260"/><rect x="445" y="490" width="44" height="11" fill="#fc9160"/><rect x="489" y="490" width="100" height="11" fill="#fc9060"/><rect x="17" y="501" width="22" height="11" fill="#fca064"/><rect x="39" y="501" width="11" height="11" fill="#fc9f64"/><rect x="50" y="501" width="22" height="11" fill="#fc9f63"/><rect x="72" y="501" width="33" height="11" fill="#fc9e63"/><rect x="105" y="501" width="22" height="11" fill="#fc9d63"/><rect x="127" y="501" width="22" height="11" fill="#fc9d62"/><rect x="149" y="501" width="307" height="11" fill="#fc9c62"/><rect x="456" y="501" width="22" height="11" fill="#fc9d62"/><rect x="478" y="501" width="22" height="11" fill="#fc9d63"/><rect x="500" y="501" width="33" height="11" fill="#fc9e63"/><rect x="533" y="501" width="22" height="11" fill="#fc9f63"/><rect x="555" y="501" width="11" height="11" fill="#fc9f64"/><rect x="566" y="501" width="23" height="11" fill="#fca064"/><rect x="17" y="512" width="11" height="11" fill="#fdb465"/><rect x="28" y="512" width="11" height="11" fill="#fdb264"/><rect x="39" y="512" width="11" height="11" fill="#fdb164"/><rect x="50" y="512" width="11" height="11" fill="#fdb064"/><rect x="61" y="512" width="11" height="11" fill="#fdaf64"/><rect x="72" y="512" width="11" height="11" fill="#fcae64"/><rect x="83" y="512" width="11" height="11" fill="#fcad64"/><rect x="94" y="512" width="11" height="11" fill="#fcac64"/><rect x="105" y="512" width="22" height="11" fill="#fcab64"/><rect x="127" y="512" width="11" height="11" fill="#fcaa64"/><rect x="138" y="512" width="22" height="11" fill="#fca964"/><rect x="160" y="512" width="77" height="11" fill="#fca864"/><rect x="237" y="512" width="132" height="11" fill="#fca764"/><rect x="369" y="512" width="76" height="11" fill="#fca864"/><rect x="445" y="512" width="22" height="11" fill="#fca964"/><rect x="467" y="512" width="11" height="11" fill="#fcaa64"/><rect x="478" y="512" width="22" height="11" fill="#fcab64"/><rect x="500" y="512" width="11" height="11" fill="#fcac64"/><rect x="511" y="512" width="11" height="11" fill="#fcad64"/><rect x="522" y="512" width="11" height="11" fill="#fcae64"/><rect x="533" y="512" width="11" height="11" fill="#fdaf64"/><rect x="544" y="512" width="11" height="11" fill="#fdb064"/><rect x="555" y="512" width="11" height="11" fill="#fdb164"/><rect x="566" y="512" width="11" height="11" fill="#fdb264"/><rect x="577" y="512" width="12" height="11" fill="#fdb465"/><rect x="17" y="523" width="11" height="11" fill="#fdcc68"/><rect x="28" y="523" width="11" height="11" fill="#fdc968"/><rect x="39" y="523" width="11" height="11" fill="#fdc768"/><rect x="50" y="523" width="11" height="11" fill="#fdc568"/><rect x="61" y="523" width="11" height="11" fill="#fdc268"/><rect x="72" y="523" width="11" height="11" fill="#fdc068"/><rect x="83" y="523" width="11" height="11" fill="#fdbe68"/><rect x="94" y="523" width="11" height="11" fill="#fdbc68"/><rect x="105" y="523" width="11" height="11" fill="#fdba68"/><rect x="116" y="523" width="11" height="11" fill="#fdb867"/><rect x="127" y="523" width="11" height="11" fill="#fdb766"/><rect x="138" y="523" width="11" height="11" fill="#fdb566"/><rect x="149" y="523" width="11" height="11" fill="#fdb465"/><rect x="160" y="523" width="33" height="11" fill="#fdb264"/><rect x="193" y="523" width="55" height="11" fill="#fdb164"/><rect x="248" y="523" width="110" height="11" fill="#fdb064"/><rect x="358" y="523" width="54" height="11" fill="#fdb164"/><rect x="412" y="523" width="33" height="11" fill="#fdb264"/><rect x="445" y="523" width="11" height="11" fill="#fdb465"/><rect x="456" y="523" width="11" height="11" fill="#fdb566"/><rect x="467" y="523" width="11" height="11" fill="#fdb766"/><rect x="478" y="523" width="11" height="11" fill="#fdb867"/><rect x="489" y="523" width="11" height="11" fill="#fdba68"/><rect x="500" y="523" width="11" height="11" fill="#fdbc68"/><rect x="511" y="523" width="11" height="11" fill="#fdbe68"/><rect x="522" y="523" width="11" height="11" fill="#fdc068"/><rect x="533" y="523" width="11" height="11" fill="#fdc268"/><rect x="544" y="523" width="11" height="11" fill="#fdc568"/><rect x="555" y="523" width="11" height="11" fill="#fdc768"/><rect x="566" y="523" width="11" height="11" fill="#fdc968"/><rect x="577" y="523" width="12" height="11" fill="#fdcc68"/><rect x="17" y="534" width="22" height="11" fill="#fdda68"/><rect x="39" y="534" width="11" height="11" fill="#fdd668"/><rect x="50" y="534" width="11" height="11" fill="#fdd268"/><rect x="61" y="534" width="11" height="11" fill="#fdce68"/><rect x="72" y="534" width="11" height="11" fill="#fdca68"/><rect x="83" y="534" width="11" height="11" fill="#fdc868"/><rect x="94" y="534" width="11" height="11" fill="#fdc468"/><rect x="105" y="534" width="11" height="11" fill="#fdc268"/><rect x="116" y="534" width="11" height="11" fill="#fdc068"/><rect x="127" y="534" width="11" height="11" fill="#fdbd68"/><rect x="138" y="534" width="11" height="11" fill="#fdbb68"/><rect x="149" y="534" width="11" height="11" fill="#fdb968"/><rect x="160" y="534" width="285" height="11" fill="#fdb867"/><rect x="445" y="534" width="11" height="11" fill="#fdb968"/><rect x="456" y="534" width="11" height="11" fill="#fdbb68"/><rect x="467" y="534" width="11" height="11" fill="#fdbd68"/><rect x="478" y="534" width="11" height="11" fill="#fdc068"/><rect x="489" y="534" width="11" height="11" fill="#fdc268"/><rect x="500" y="534" width="11" height="11" fill="#fdc468"/><rect x="511" y="534" width="11" height="11" fill="#fdc868"/><rect x="522" y="534" width="11" height="11" fill="#fdca68"/><rect x="533" y="534" width="11" height="11" fill="#fdce68"/><rect x="544" y="534" width="11" height="11" fill="#fdd268"/><rect x="555" y="534" width="11" height="11" fill="#fdd668"/><rect x="566" y="534" width="23" height="11" fill="#fdda68"/><rect x="17" y="545" width="22" height="11" fill="#fefa66"/><rect x="39" y="545" width="11" height="11" fill="#fdec68"/><rect x="50" y="545" width="11" height="11" fill="#fde768"/><rect x="61" y="545" width="11" height="11" fill="#fde268"/><rect x="72" y="545" width="11" height="11" fill="#fdde68"/><rect x="83" y="545" width="11" height="11" fill="#fdda68"/><rect x="94" y="545" width="11" height="11" fill="#fdd468"/><rect x="105" y="545" width="11" height="11" fill="#fdd068"/><rect x="116" y="545" width="11" height="11" fill="#fdcc68"/><rect x="127" y="545" width="11" height="11" fill="#fdc868"/><rect x="138" y="545" width="11" height="11" fill="#fdc468"/><rect x="149" y="545" width="11" height="11" fill="#fdc268"/><rect x="160" y="545" width="33" height="11" fill="#fdc068"/><rect x="193" y="545" width="219" height="11" fill="#fdc168"/><rect x="412" y="545" width="33" height="11" fill="#fdc068"/><rect x="445" y="545" width="11" height="11" fill="#fdc268"/><rect x="456" y="545" width="11" height="11" fill="#fdc468"/><rect x="467" y="545" width="11" height="11" fill="#fdc868"/><rect x="478" y="545" width="11" height="11" fill="#fdcc68"/><rect x="489" y="545" width="11" height="11" fill="#fdd068"/><rect x="500" y="545" width="11" height="11" fill="#fdd468"/><rect x="511" y="545" width="11" height="11" fill="#fdda68"/><rect x="522" y="545" width="11" height="11" fill="#fdde68"/><rect x="533" y="545" width="11" height="11" fill="#fde268"/><rect x="544" y="545" width="11" height="11" fill="#fde768"/><rect x="555" y="545" width="11" height="11" fill="#fdec68"/><rect x="566" y="545" width="23" height="11" fill="#fefa66"/><rect x="17" y="556" width="11" height="11" fill="#fef878"/><rect x="28" y="556" width="44" height="11" fill="#fefa66"/><rect x="72" y="556" width="11" height="11" fill="#fdec68"/><rect x="83" y="556" width="11" height="11" fill="#fde268"/><rect x="94" y="556" width="11" height="11" fill="#fdd868"/><rect x="105" y="556" width="11" height="11" fill="#fdd468"/><rect x="116" y="556" width="11" height="11" fill="#fdd068"/><rect x="127" y="556" width="11" height="11" fill="#fdce68"/><rect x="138" y="556" width="11" height="11" fill="#fdcc68"/><rect x="149" y="556" width="11" height="11" fill="#fdca68"/><rect x="160" y="556" width="22" height="11" fill="#fdc868"/><rect x="182" y="556" width="77" height="11" fill="#fdc968"/><rect x="259" y="556" width="88" height="11" fill="#fdca68"/><rect x="347" y="556" width="76" height="11" fill="#fdc968"/><rect x="423" y="556" width="22" height="11" fill="#fdc868"/><rect x="445" y="556" width="11" height="11" fill="#fdca68"/><rect x="456" y="556" width="11" height="11" fill="#fdcc68"/><rect x="467" y="556" width="11" height="11" fill="#fdce68"/><rect x="478" y="556" width="11" height="11" fill="#fdd068"/><rect x="489" y="556" width="11" height="11" fill="#fdd468"/><rect x="500" y="556" width="11" height="11" fill="#fdd868"/><rect x="511" y="556" width="11" height="11" fill="#fde268"/><rect x="522" y="556" width="11" height="11" fill="#fdec68"/><rect x="533" y="556" width="44" height="11" fill="#fefa66"/><rect x="577" y="556" width="12" height="11" fill="#fef878"/><rect x="17" y="567" width="11" height="11" fill="#fef8a0"/><rect x="28" y="567" width="11" height="11" fill="#fef890"/><rect x="39" y="567" width="11" height="11" fill="#fef884"/><rect x="50" y="567" width="44" height="11" fill="#fefa66"/><rect x="94" y="567" width="11" height="11" fill="#fde768"/><rect x="105" y="567" width="11" height="11" fill="#fde068"/><rect x="116" y="567" width="11" height="11" fill="#fddc68"/><rect x="127" y="567" width="11" height="11" fill="#fdd868"/><rect x="138" y="567" width="11" height="11" fill="#fdd468"/><rect x="149" y="567" width="33" height="11" fill="#fdd068"/><rect x="182" y="567" width="77" height="11" fill="#fdd168"/><rect x="259" y="567" width="88" height="11" fill="#fdd268"/><rect x="347" y="567" width="76" height="11" fill="#fdd168"/><rect x="423" y="567" width="33" height="11" fill="#fdd068"/><rect x="456" y="567" width="11" height="11" fill="#fdd468"/><rect x="467" y="567" width="11" height="11" fill="#fdd868"/><rect x="478" y="567" width="11" height="11" fill="#fddc68"/><rect x="489" y="567" width="11" height="11" fill="#fde068"/><rect x="500" y="567" width="11" height="11" fill="#fde768"/><rect x="511" y="567" width="44" height="11" fill="#fefa66"/><rect x="555" y="567" width="11" height="11" fill="#fef884"/><rect x="566" y="567" width="11" height="11" fill="#fef890"/><rect x="577" y="567" width="12" height="11" fill="#fef8a0"/><rect x="17" y="578" width="11" height="11" fill="#fefbcc"/><rect x="28" y="578" width="11" height="11" fill="#fefab8"/><rect x="39" y="578" width="11" height="11" fill="#fef8a0"/><rect x="50" y="578" width="11" height="11" fill="#fef884"/><rect x="61" y="578" width="33" height="11" fill="#fefa66"/><rect x="94" y="578" width="11" height="11" fill="#fef367"/><rect x="105" y="578" width="11" height="11" fill="#fde768"/><rect x="116" y="578" width="11" height="11" fill="#fde068"/><rect x="127" y="578" width="11" height="11" fill="#fddc68"/><rect x="138" y="578" width="22" height="11" fill="#fdd868"/><rect x="160" y="578" width="11" height="11" fill="#fdd468"/><rect x="171" y="578" width="11" height="11" fill="#fdd868"/><rect x="182" y="578" width="55" height="11" fill="#fdd968"/><rect x="237" y="578" width="44" height="11" fill="#fdda68"/><rect x="281" y="578" width="44" height="11" fill="#fddb68"/><rect x="325" y="578" width="44" height="11" fill="#fdda68"/><rect x="369" y="578" width="54" height="11" fill="#fdd968"/><rect x="423" y="578" width="11" height="11" fill="#fdd868"/><rect x="434" y="578" width="11" height="11" fill="#fdd468"/><rect x="445" y="578" width="22" height="11" fill="#fdd868"/><rect x="467" y="578" width="11" height="11" fill="#fddc68"/><rect x="478" y="578" width="11" height="11" fill="#fde068"/><rect x="489" y="578" width="11" height="11" fill="#fde768"/><rect x="500" y="578" width="11" height="11" fill="#fef367"/><rect x="511" y="578" width="33" height="11" fill="#fefa66"/><rect x="544" y="578" width="11" height="11" fill="#fef884"/><rect x="555" y="578" width="11" height="11" fill="#fef8a0"/><rect x="566" y="578" width="11" height="11" fill="#fefab8"/><rect x="577" y="578" width="12" height="11" fill="#fefbcc"/><rect x="17" y="589" width="11" height="11" fill="#fef8a0"/><rect x="28" y="589" width="11" height="11" fill="#fefce0"/><rect x="39" y="589" width="11" height="11" fill="#fef8a0"/><rect x="50" y="589" width="11" height="11" fill="#fef878"/><rect x="61" y="589" width="33" height="11" fill="#fefa66"/><rect x="94" y="589" width="11" height="11" fill="#fef367"/><rect x="105" y="589" width="11" height="11" fill="#fde768"/><rect x="116" y="589" width="11" height="11" fill="#fde268"/><rect x="127" y="589" width="33" height="11" fill="#fde068"/><rect x="160" y="589" width="11" height="11" fill="#fddc68"/><rect x="171" y="589" width="11" height="11" fill="#fde068"/><rect x="182" y="589" width="77" height="11" fill="#fde168"/><rect x="259" y="589" width="88" height="11" fill="#fde268"/><rect x="347" y="589" width="76" height="11" fill="#fde168"/><rect x="423" y="589" width="11" height="11" fill="#fde068"/><rect x="434" y="589" width="11" height="11" fill="#fddc68"/><rect x="445" y="589" width="33" height="11" fill="#fde068"/><rect x="478" y="589" width="11" height="11" fill="#fde268"/><rect x="489" y="589" width="11" height="11" fill="#fde768"/><rect x="500" y="589" width="11" height="11" fill="#fef367"/><rect x="511" y="589" width="33" height="11" fill="#fefa66"/><rect x="544" y="589" width="11" height="11" fill="#fef878"/><rect x="555" y="589" width="11" height="11" fill="#fef8a0"/><rect x="566" y="589" width="11" height="11" fill="#fefce0"/><rect x="577" y="589" width="12" height="11" fill="#fef8a0"/><rect x="17" y="600" width="11" height="12" fill="#ff60ff"/><rect x="28" y="600" width="11" height="12" fill="#fef898"/><rect x="39" y="600" width="11" height="12" fill="#fef96f"/><rect x="50" y="600" width="22" height="12" fill="#fefa66"/><rect x="72" y="600" width="11" height="12" fill="#fdec68"/><rect x="83" y="600" width="44" height="12" fill="#fde768"/><rect x="127" y="600" width="44" height="12" fill="#fde268"/><rect x="171" y="600" width="263" height="12" fill="#fde768"/><rect x="434" y="600" width="44" height="12" fill="#fde268"/><rect x="478" y="600" width="44" height="12" fill="#fde768"/><rect x="522" y="600" width="11" height="12" fill="#fdec68"/><rect x="533" y="600" width="22" height="12" fill="#fefa66"/><rect x="555" y="600" width="11" height="12" fill="#fef96f"/><rect x="566" y="600" width="11" height="12" fill="#fef898"/><rect x="577" y="600" width="12" height="12" fill="#ff60ff"/>
<g fill="#808080" shape-rendering="auto"><rect x="28.69" y="43" width="1" height="568"/><rect x="39.66" y="43" width="1" height="568"/><rect x="50.63" y="43" width="1" height="568"/><rect x="61.60" y="43" width="1" height="568"/><rect x="72.57" y="43" width="1" height="568"/><rect x="83.54" y="43" width="1" height="568"/><rect x="94.51" y="43" width="1" height="568"/><rect x="105.48" y="43" width="1" height="568"/><rect x="116.45" y="43" width="1" height="568"/><rect x="127.42" y="43" width="1" height="568"/><rect x="138.39" y="43" width="1" height="568"/><rect x="149.36" y="43" width="1" height="568"/><rect x="160.33" y="43" width="1" height="568"/><rect x="171.30" y="43" width="1" height="568"/><rect x="182.27" y="43" width="1" height="568"/><rect x="193.24" y="43" width="1" height="568"/><rect x="204.21" y="43" width="1" height="568"/><rect x="215.18" y="43" width="1" height="568"/><rect x="226.15" y="43" width="1" height="568"/><rect x="237.12" y="43" width="1" height="568"/><rect x="248.09" y="43" width="1" height="568"/><rect x="259.06" y="43" width="1" height="568"/><rect x="270.03" y="43" width="1" height="568"/><rect x="281.00" y="43" width="1" height="568"/><rect x="291.97" y="43" width="1" height="568"/><rect x="302.94" y="43" width="1" height="568"/><rect x="313.91" y="43" width="1" height="568"/><rect x="324.88" y="43" width="1" height="568"/><rect x="335.85" y="43" width="1" height="568"/><rect x="346.82" y="43" width="1" height="568"/><rect x="357.79" y="43" width="1" height="568"/><rect x="368.76" y="43" width="1" height="568"/><rect x="379.73" y="43" width="1" height="568"/><rect x="390.70" y="43" width="1" height="568"/><rect x="401.67" y="43" width="1" height="568"/><rect x="412.64" y="43" width="1" height="568"/><rect x="423.61" y="43" width="1" height="568"/><rect x="434.58" y="43" width="1" height="568"/><rect x="445.55" y="43" width="1" height="568"/><rect x="456.52" y="43" width="1" height="568"/><rect x="467.49" y="43" width="1" height="568"/><rect x="478.46" y="43" width="1" height="568"/><rect x="489.43" y="43" width="1" height="568"/><rect x="500.40" y="43" width="1" height="568"/><rect x="511.37" y="43" width="1" height="568"/><rect x="522.34" y="43" width="1" height="568"/><rect x="533.31" y="43" width="1" height="568"/><rect x="544.28" y="43" width="1" height="568"/><rect x="555.25" y="43" width="1" height="568"/><rect x="566.22" y="43" width="1" height="568"/><rect x="577.19" y="43" width="1" height="568"/></g><g fill="#808080" shape-rendering="auto"><rect x="19" y="52.26" width="569" height="1"/><rect x="19" y="63.22" width="569" height="1"/><rect x="19" y="74.18" width="569" height="1"/><rect x="19" y="85.14" width="569" height="1"/><rect x="19" y="96.10" width="569" height="1"/><rect x="19" y="107.06" width="569" height="1"/><rect x="19" y="118.02" width="569" height="1"/><rect x="19" y="128.98" width="569" height="1"/><rect x="19" y="139.94" width="569" height="1"/><rect x="19" y="150.90" width="569" height="1"/><rect x="19" y="161.86" width="569" height="1"/><rect x="19" y="172.82" width="569" height="1"/><rect x="19" y="183.78" width="569" height="1"/><rect x="19" y="194.74" width="569" height="1"/><rect x="19" y="205.70" width="569" height="1"/><rect x="19" y="216.66" width="569" height="1"/><rect x="19" y="227.62" width="569" height="1"/><rect x="19" y="238.58" width="569" height="1"/><rect x="19" y="249.54" width="569" height="1"/><rect x="19" y="260.50" width="569" height="1"/><rect x="19" y="271.46" width="569" height="1"/><rect x="19" y="282.42" width="569" height="1"/><rect x="19" y="293.38" width="569" height="1"/><rect x="19" y="304.34" width="569" height="1"/><rect x="19" y="315.30" width="569" height="1"/><rect x="19" y="326.26" width="569" height="1"/><rect x="19" y="337.22" width="569" height="1"/><rect x="19" y="348.18" width="569" height="1"/><rect x="19" y="359.14" width="569" height="1"/><rect x="19" y="370.10" width="569" height="1"/><rect x="19" y="381.06" width="569" height="1"/><rect x="19" y="392.02" width="569" height="1"/><rect x="19" y="402.98" width="569" height="1"/><rect x="19" y="413.94" width="569" height="1"/><rect x="19" y="424.90" width="569" height="1"/><rect x="19" y="435.86" width="569" height="1"/><rect x="19" y="446.82" width="569" height="1"/><rect x="19" y="457.78" width="569" height="1"/><rect x="19" y="468.74" width="569" height="1"/><rect x="19" y="479.70" width="569" height="1"/><rect x="19" y="490.66" width="569" height="1"/><rect x="19" y="501.62" width="569" height="1"/><rect x="19" y="512.58" width="569" height="1"/><rect x="19" y="523.54" width="569" height="1"/><rect x="19" y="534.50" width="569" height="1"/><rect x="19" y="545.46" width="569" height="1"/><rect x="19" y="556.42" width="569" height="1"/><rect x="19" y="567.38" width="569" height="1"/><rect x="19" y="578.34" width="569" height="1"/><rect x="19" y="589.30" width="569" height="1"/><rect x="19" y="600.26" width="569" height="1"/></g>
<path d="M17 41h573v2h-573zM17 611h573v2h-573zM17 41h2v572h-2zM588 41h2v572h-2z" fill="#747878"/>
</svg>
<svg width="771" height="628" style="position:absolute;left:0;top:0"><path d="M18 39.7L20.3 42L18 44.3L15.7 42Z" fill="#e00000"/><path d="M589 39.7L591.3 42L589 44.3L586.7 42Z" fill="#e00000"/><path d="M18 609.7L20.3 612L18 614.3L15.7 612Z" fill="#e00000"/><path d="M589 609.7L591.3 612L589 614.3L586.7 612Z" fill="#e00000"/></svg>
<div id="box"></div>
<div style="position:absolute;left:721px;top:54px;width:13px;height:10px;background:linear-gradient(#a80000,#cc0000)"></div><div style="position:absolute;left:721px;top:64px;width:13px;height:32px;background:linear-gradient(#f00000,#e86800)"></div><div style="position:absolute;left:721px;top:96px;width:13px;height:32px;background:linear-gradient(#f08000,#f8b430)"></div><div style="position:absolute;left:721px;top:128px;width:13px;height:33px;background:linear-gradient(#f8c030,#ecf060)"></div><div style="position:absolute;left:721px;top:161px;width:13px;height:32px;background:linear-gradient(#d0f050,#70d830)"></div><div style="position:absolute;left:721px;top:193px;width:13px;height:32px;background:linear-gradient(#30cc20,#10d880)"></div><div style="position:absolute;left:721px;top:225px;width:13px;height:32px;background:linear-gradient(#10e090,#00f0e8)"></div><div style="position:absolute;left:721px;top:257px;width:13px;height:32px;background:linear-gradient(#00e8f8,#0080e0)"></div><div style="position:absolute;left:721px;top:289px;width:13px;height:32px;background:linear-gradient(#0070e8,#0010d0)"></div><div style="position:absolute;left:721px;top:321px;width:13px;height:13px;background:linear-gradient(#5808b8,#7000a0)"></div><div style="position:absolute;left:720px;top:54px;width:15px;height:1px;background:#000"></div><div style="position:absolute;left:720px;top:64px;width:15px;height:1px;background:#000"></div><div style="position:absolute;left:720px;top:96px;width:15px;height:1px;background:#000"></div><div style="position:absolute;left:720px;top:128px;width:15px;height:1px;background:#000"></div><div style="position:absolute;left:720px;top:161px;width:15px;height:1px;background:#000"></div><div style="position:absolute;left:720px;top:193px;width:15px;height:1px;background:#000"></div><div style="position:absolute;left:720px;top:225px;width:15px;height:1px;background:#000"></div><div style="position:absolute;left:720px;top:257px;width:15px;height:1px;background:#000"></div><div style="position:absolute;left:720px;top:289px;width:15px;height:1px;background:#000"></div><div style="position:absolute;left:720px;top:321px;width:15px;height:1px;background:#000"></div><div style="position:absolute;left:720px;top:334px;width:15px;height:1px;background:#000"></div><div style="position:absolute;left:720px;top:54px;width:1px;height:281px;background:#000"></div><div style="position:absolute;left:734px;top:54px;width:1px;height:281px;background:#000"></div><div class="lb" style="top:26px">92.88</div><div class="lb" style="top:57px">70.00</div><div class="lb" style="top:89px">0.00</div><div class="lb" style="top:121px">-70.00</div><div class="lb" style="top:154px">-140.00</div><div class="lb" style="top:186px">-210.00</div><div class="lb" style="top:218px">-280.00</div><div class="lb" style="top:250px">-350.00</div><div class="lb" style="top:282px">-420.00</div><div class="lb" style="top:314px">-490.00</div><div class="lb" style="top:348px">-517.26</div>
<div id="ttl"><span style="position:absolute;left:0px;top:0px;font-size:13px;line-height:13px">m</span><span style="position:absolute;left:13.25px;top:5px;font-size:8px;line-height:8px">y</span><span style="position:absolute;left:23.85px;top:0px;font-size:13px;line-height:13px">[</span><span style="position:absolute;left:28.9px;top:0px;font-size:13px;line-height:13px">k</span><span style="position:absolute;left:36.65px;top:0px;font-size:13px;line-height:13px">N</span><span style="position:absolute;left:44.7px;top:0px;font-size:13px;line-height:13px">m</span><span style="position:absolute;left:59.1px;top:0px;font-size:13px;line-height:13px">/</span><span style="position:absolute;left:64.95px;top:0px;font-size:13px;line-height:13px">m</span><span style="position:absolute;left:80.1px;top:0px;font-size:13px;line-height:13px">]</span></div>
</body></html>
